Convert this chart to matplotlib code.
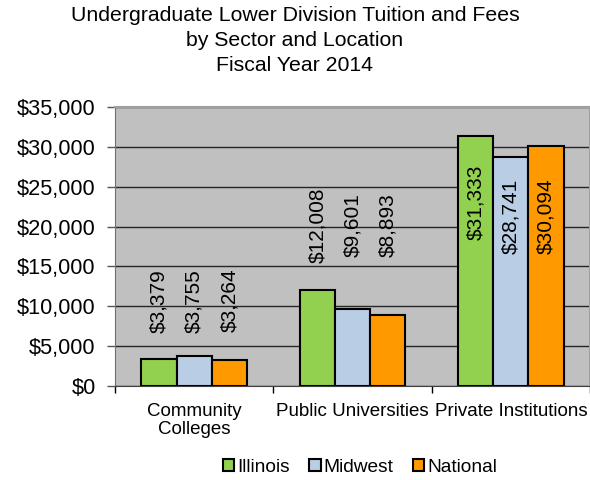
import matplotlib
matplotlib.use("Agg")
import matplotlib.pyplot as plt
import numpy as np

plt.rcParams['font.family'] = ['Liberation Sans', 'DejaVu Sans']

categories = ["Community\nColleges", "Public Universities", "Private Institutions"]
series_names = ["Illinois", "Midwest", "National"]
illinois = [3379, 12008, 31333]
midwest = [3755, 9601, 28741]
national = [3264, 8893, 30094]
colors = ["#92D050", "#B9CDE5", "#FF9900"]
# vertical centre of each rotated data label (data units), per series
label_centers = [[10700, 20200, 23000],
                 [10700, 20200, 21250],
                 [10700, 20200, 21350]]
yticks = [0, 5000, 10000, 15000, 20000, 25000, 30000, 35000]

fig = plt.figure(figsize=(5.9, 4.8), dpi=100)
ax = fig.add_axes([0.195, 0.196, 0.805, 0.581])
ax.set_facecolor("#C0C0C0")

x = np.arange(len(categories))
w = 0.222
for i, (vals, name, col) in enumerate(zip([illinois, midwest, national], series_names, colors)):
    pos = x + (i - 1) * w
    ax.bar(pos, vals, width=w, color=col, edgecolor="black", linewidth=1.5,
           label=name, zorder=3)
    for px, v, yc in zip(pos, vals, label_centers[i]):
        ax.text(px, yc, "${:,}".format(v), rotation=90, ha="center", va="center",
                fontsize=15, zorder=4)

ax.set_xlim(-0.5, 2.5)
ax.set_ylim(0, 35000)
ax.set_yticks(yticks)
ax.set_yticklabels(["${:,}".format(t) for t in yticks], fontsize=15.7)
ax.yaxis.grid(True, color="#262626", linewidth=1.0, zorder=0)
ax.set_axisbelow(True)

ax.set_xticks(x)
ax.set_xticklabels(categories, fontsize=13.5, linespacing=1.1)
ax.tick_params(axis="x", which="major", length=0, pad=12)
ax.set_xticks([-0.5, 0.5, 1.5, 2.5], minor=True)
ax.tick_params(axis="x", which="minor", length=5, width=1, color="black", direction="out")
ax.tick_params(axis="y", length=6, width=1, color="#555555", direction="out", pad=8)

for s in ["top", "right"]:
    ax.spines[s].set_color("#A0A0A0")
    ax.spines[s].set_linewidth(1.5)
ax.spines["left"].set_color("#707070")
ax.spines["bottom"].set_color("#404040")

fig.text(0.5, 0.988, "Undergraduate Lower Division Tuition and Fees\nby Sector and Location\nFiscal Year 2014",
         ha="center", va="top", fontsize=15.3, linespacing=1.42)

leg = fig.legend(loc="center", bbox_to_anchor=(0.61, 0.027), ncol=3, frameon=False,
                 fontsize=13.8, handlelength=0.6, handleheight=0.6, handletextpad=0.15,
                 columnspacing=1.0)
for h in leg.legend_handles:
    h.set_linewidth(1.5)

fig.savefig("out.png", dpi=100)
